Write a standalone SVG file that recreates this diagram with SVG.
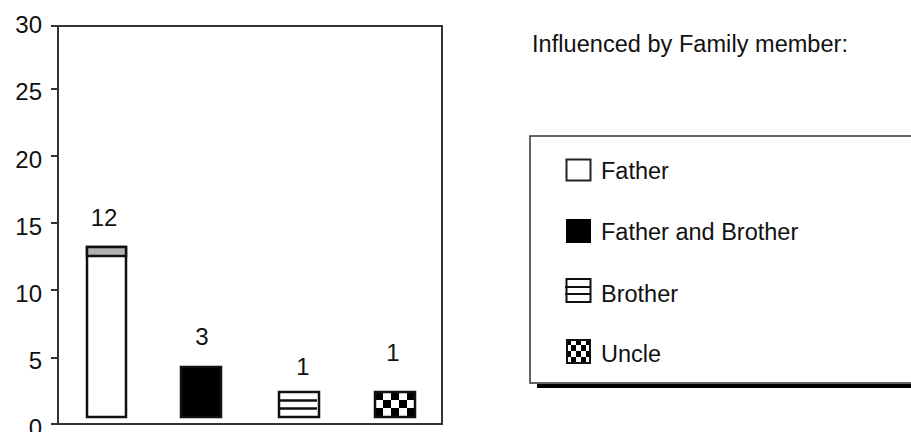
<svg xmlns="http://www.w3.org/2000/svg" width="911" height="432" viewBox="0 0 911 432">
<style>
text{font-family:"Liberation Sans",Arial,sans-serif;fill:#111;}
.ax{font-size:24px;text-anchor:end;}
.lbl{font-size:24px;text-anchor:middle;}
.leg{font-size:23.5px;}
.axis{stroke:#333;stroke-width:2;fill:none;}
.bar{stroke:#111;stroke-width:2.5;}
</style>
<defs>
<pattern id="chk" x="375" y="392" width="16" height="16" patternUnits="userSpaceOnUse">
<rect width="16" height="16" fill="#fff"/>
<rect width="8" height="8" fill="#000"/>
<rect x="8" y="8" width="8" height="8" fill="#000"/>
</pattern>
<pattern id="chk2" x="566" y="339" width="10" height="12" patternUnits="userSpaceOnUse">
<rect width="10" height="12" fill="#fff"/>
<rect width="5" height="6" fill="#000"/>
<rect x="5" y="6" width="5" height="6" fill="#000"/>
</pattern>
</defs>
<g id="axes">
<rect class="axis" x="58" y="26" width="384" height="398"/>
<path class="axis" d="M51 26H58M51 89H58M51 156H58M51 223H58M51 290H58M51 358H58M51 424H58"/>
<text class="ax" x="42" y="33">30</text>
<text class="ax" x="42" y="100">25</text>
<text class="ax" x="42" y="168">20</text>
<text class="ax" x="42" y="235">15</text>
<text class="ax" x="42" y="302">10</text>
<text class="ax" x="42" y="369">5</text>
<text class="ax" x="42" y="436">0</text>
</g>
<g id="bar-father">
<rect class="bar" x="87" y="247" width="39" height="170" fill="#fff"/>
<rect class="bar" x="87" y="247" width="39" height="9" fill="#b0b0b0"/>
<text class="lbl" x="104" y="226">12</text>
</g>
<g id="bar-father-brother">
<rect class="bar" x="181" y="367" width="40" height="50" fill="#000"/>
<text class="lbl" x="202" y="345">3</text>
</g>
<g id="bar-brother">
<rect class="bar" x="279" y="392" width="40" height="25" fill="#fff"/>
<path d="M278 400.5H317M278 408.5H317" stroke="#111" stroke-width="2.5"/>
<text class="lbl" x="303" y="375">1</text>
</g>
<g id="bar-uncle">
<rect class="bar" x="375" y="392" width="40" height="25" fill="url(#chk)"/>
<text class="lbl" x="393" y="361">1</text>
</g>
<g id="legend">
<text class="leg" x="532" y="52" textLength="316">Influenced by Family member:</text>
<path d="M537 386H911" stroke="#000" stroke-width="4"/>
<rect x="530" y="136" width="390" height="247" fill="#fff" stroke="#333" stroke-width="1.5"/>
<rect x="566.5" y="159.5" width="24" height="21" fill="#fff" stroke="#222" stroke-width="2"/>
<text class="leg" x="601" y="179">Father</text>
<rect x="566" y="219" width="25" height="24" fill="#000"/>
<text class="leg" x="601" y="240">Father and Brother</text>
<rect x="566.5" y="279" width="24" height="23" fill="#fff" stroke="#111" stroke-width="2"/>
<path d="M565 287H591M565 294H591" stroke="#111" stroke-width="2"/>
<text class="leg" x="601" y="302">Brother</text>
<rect x="567" y="340" width="23" height="23" fill="url(#chk2)" stroke="#111" stroke-width="2"/>
<text class="leg" x="601" y="362">Uncle</text>
</g>
</svg>
